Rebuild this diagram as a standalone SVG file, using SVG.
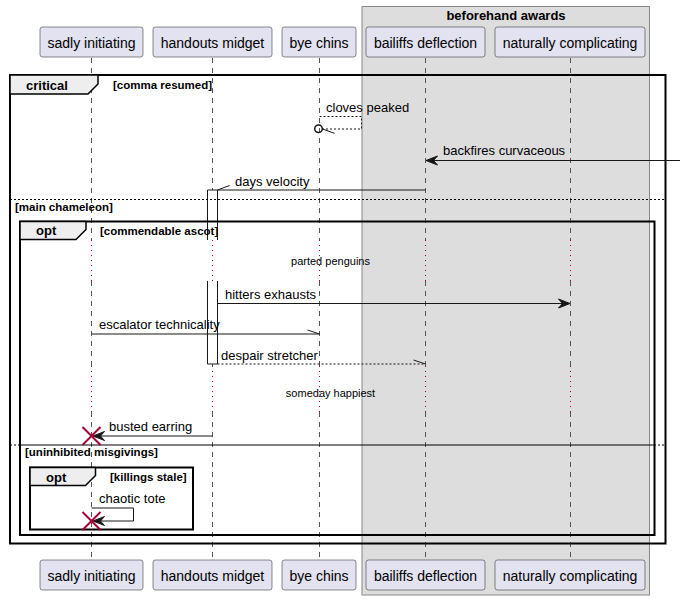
<svg xmlns="http://www.w3.org/2000/svg" width="680" height="600" viewBox="0 0 680 600">
<style>
text{font-family:"Liberation Sans",Arial,sans-serif;fill:#000}
.pbox{fill:#E2E2F0;stroke:#181818;stroke-width:0.5}
.plab{font-size:14px;text-anchor:middle}
.life{stroke:#555;stroke-width:1;stroke-dasharray:5,5;fill:none}
.delay{stroke:#A80036;stroke-width:1;stroke-dasharray:1,4;fill:none}
.frame{fill:none;stroke:#000;stroke-width:2}
.tab{fill:#EEEEEE;stroke:#000;stroke-width:1.5}
.ftitle{font-size:13px;font-weight:bold}
.fcond{font-size:11.5px;font-weight:bold}
.sep{stroke:#000;stroke-width:1;stroke-dasharray:2,2}
.msg{stroke:#181818;stroke-width:1;fill:none}
.dash{stroke-dasharray:2,2}
.mtxt{font-size:13px}
.note{font-size:11px;text-anchor:middle}
.head{fill:#181818;stroke:#181818;stroke-width:1}
.act{fill:#fff;stroke:#181818;stroke-width:1}
.x{stroke:#A80036;stroke-width:2}
</style>
<g id="box-beforehand-awards">
<rect x="362" y="6.5" width="287.5" height="588.5" fill="#DDDDDD" stroke="#888" stroke-width="1"/>
<text x="506" y="19.5" font-size="13" font-weight="bold" text-anchor="middle">beforehand awards</text>
</g>
<g id="lifelines">
<path class="life" d="M91.5,58V240M91.5,281V366M91.5,412V560M212.5,58V240M212.5,281V366M212.5,412V560M319.5,58V240M319.5,281V366M319.5,412V560M425.5,58V240M425.5,281V366M425.5,412V560M570.5,58V240M570.5,281V366M570.5,412V560"/>
<path class="delay" d="M91.5,240V281M91.5,366V412M212.5,240V281M212.5,366V412M319.5,240V281M319.5,366V412M425.5,240V281M425.5,366V412M570.5,240V281M570.5,366V412"/>
</g>
<g id="activations">
<rect x="207.5" y="190" width="10" height="50" fill="#fff" stroke="none"/>
<path class="act" d="M207.5,240V190H217.5V240" fill="none"/>
<rect x="207.5" y="281" width="10" height="83" fill="#fff" stroke="none"/>
<path class="act" d="M207.5,281V364H217.5V281" fill="none"/>
</g>
<g id="p-sadly-initiating">
<rect class="pbox" x="40" y="27" width="103" height="30" rx="2.5"/>
<text class="plab" x="91.5" y="47.5">sadly initiating</text>
<rect class="pbox" x="40" y="560" width="103" height="30" rx="2.5"/>
<text class="plab" x="91.5" y="580.5">sadly initiating</text>
</g>
<g id="p-handouts-midget">
<rect class="pbox" x="153" y="27" width="119" height="30" rx="2.5"/>
<text class="plab" x="212.5" y="47.5">handouts midget</text>
<rect class="pbox" x="153" y="560" width="119" height="30" rx="2.5"/>
<text class="plab" x="212.5" y="580.5">handouts midget</text>
</g>
<g id="p-bye-chins">
<rect class="pbox" x="282" y="27" width="74" height="30" rx="2.5"/>
<text class="plab" x="319" y="47.5">bye chins</text>
<rect class="pbox" x="282" y="560" width="74" height="30" rx="2.5"/>
<text class="plab" x="319" y="580.5">bye chins</text>
</g>
<g id="p-bailiffs-deflection">
<rect class="pbox" x="366" y="27" width="119" height="30" rx="2.5"/>
<text class="plab" x="425.5" y="47.5">bailiffs deflection</text>
<rect class="pbox" x="366" y="560" width="119" height="30" rx="2.5"/>
<text class="plab" x="425.5" y="580.5">bailiffs deflection</text>
</g>
<g id="p-naturally-complicating">
<rect class="pbox" x="495" y="27" width="150" height="30" rx="2.5"/>
<text class="plab" x="570" y="47.5">naturally complicating</text>
<rect class="pbox" x="495" y="560" width="150" height="30" rx="2.5"/>
<text class="plab" x="570" y="580.5">naturally complicating</text>
</g>
<g id="frame-critical">
<rect class="frame" x="10" y="75" width="655.5" height="468.5"/>
<path class="tab" d="M10,75H98V84L88,94H10Z"/>
<text class="ftitle" x="26" y="90">critical</text>
<text class="fcond" x="113" y="89">[comma resumed]</text>
<line class="sep" x1="10" y1="199.5" x2="665.5" y2="199.5"/>
<text class="fcond" x="15" y="211">[main chameleon]</text>
<line class="sep" x1="10" y1="445" x2="665.5" y2="445"/>
</g>
<g id="frame-opt-1">
<rect class="frame" x="20" y="221.5" width="634.5" height="313.5"/>
<path class="tab" d="M20,221.5H86V229.5L76,239.5H20Z"/>
<text class="ftitle" x="36" y="235">opt</text>
<text class="fcond" x="100" y="235">[commendable ascot]</text>
<line class="sep" x1="20" y1="445" x2="654.5" y2="445"/>
<text class="fcond" x="25" y="456">[uninhibited misgivings]</text>
</g>
<g id="frame-opt-2">
<rect class="frame" x="30" y="467.5" width="163" height="62"/>
<path class="tab" d="M30,467.5H95.5V475.5L85.5,485.5H30Z"/>
<text class="ftitle" x="46" y="482">opt</text>
<text class="fcond" x="110" y="481">[killings stale]</text>
</g>
<g id="connectors">
<path class="msg dash" d="M319.5,116.5H361.5V129H322.5"/>
<circle cx="318.5" cy="128.7" r="3.8" fill="none" stroke="#181818" stroke-width="1.5"/>
<line class="msg" x1="322.5" y1="129" x2="334.5" y2="133.3"/>
<line class="msg" x1="680" y1="160.5" x2="427" y2="160.5"/>
<polygon class="head" points="426,160.5 437.5,156 433.5,160.5 437.5,165"/>
<line class="msg" x1="425.5" y1="190" x2="217.5" y2="190"/>
<line class="msg" x1="217.5" y1="190" x2="229.5" y2="185.5"/>
<line class="msg" x1="217.5" y1="303.5" x2="568" y2="303.5"/>
<polygon class="head" points="570,303.5 558.5,299 562.5,303.5 558.5,308"/>
<line class="msg" x1="91.5" y1="334" x2="319.5" y2="334"/>
<line class="msg" x1="319.5" y1="334" x2="307.5" y2="330"/>
<line class="msg dash" x1="217.5" y1="364" x2="425.5" y2="364"/>
<line class="msg" x1="425.5" y1="364" x2="413.5" y2="360"/>
<line class="msg" x1="212.5" y1="436" x2="95" y2="436"/>
<polygon class="head" points="93,436 104.5,431.5 100.5,436 104.5,440.5"/>
<path class="msg" d="M91.5,508H133.5V521H95"/>
<polygon class="head" points="93,521 104.5,516.5 100.5,521 104.5,525.5"/>
<path class="x" d="M82.5,427L100.5,445M100.5,427L82.5,445"/>
<path class="x" d="M82.5,512L100.5,530M100.5,512L82.5,530"/>
</g>
<g id="labels">
<text class="mtxt" x="326" y="112">cloves peaked</text>
<text class="mtxt" x="443" y="155">backfires curvaceous</text>
<text class="mtxt" x="235" y="186">days velocity</text>
<text class="note" x="330.5" y="265">parted penguins</text>
<text class="mtxt" x="225" y="299">hitters exhausts</text>
<text class="mtxt" x="99" y="329">escalator technicality</text>
<text class="mtxt" x="221" y="359.5">despair stretcher</text>
<text class="note" x="330.5" y="397">someday happiest</text>
<text class="mtxt" x="109" y="431">busted earring</text>
<text class="mtxt" x="99" y="503">chaotic tote</text>
</g>
</svg>
